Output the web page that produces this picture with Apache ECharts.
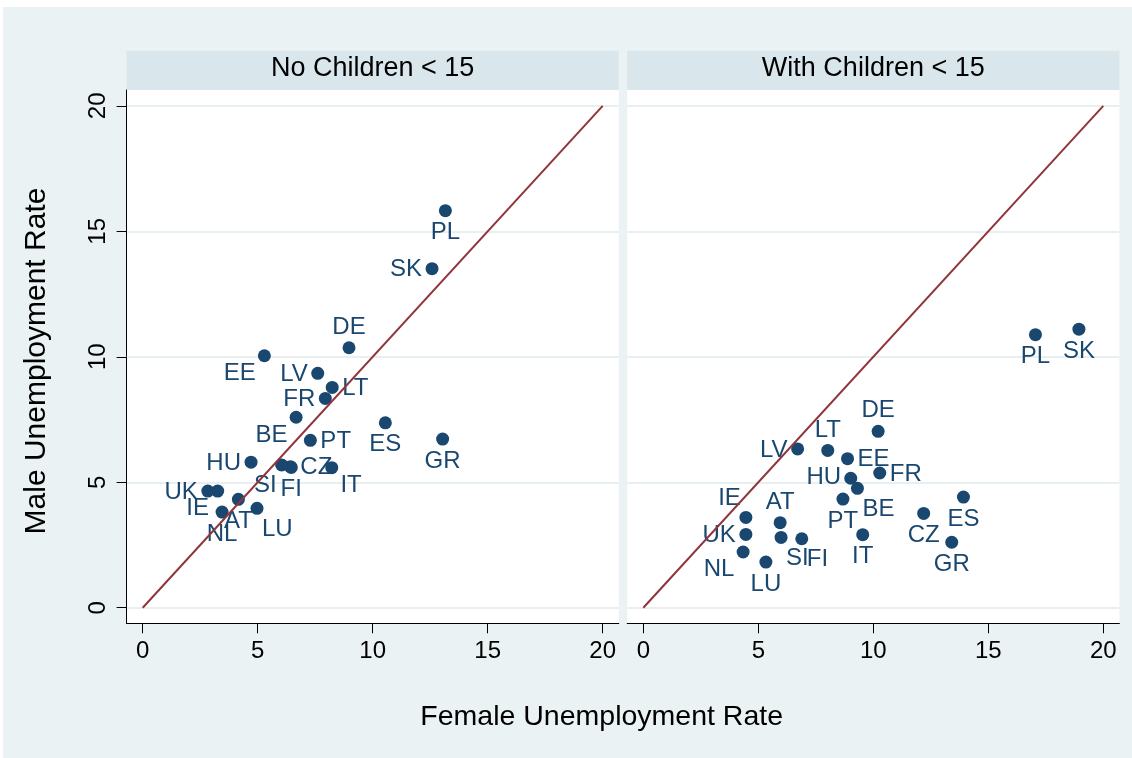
<!DOCTYPE html>
<html>
<head>
<meta charset="utf-8">
<script src="https://cdn.jsdelivr.net/npm/echarts@6/dist/echarts.min.js"></script>
<style>
  html, body { margin: 0; padding: 0; background: #ffffff; width: 1132px; height: 758px; overflow: hidden; }
  #chart { position: absolute; left: 3px; top: 7px; width: 1129px; height: 751px; }
</style>
</head>
<body>
<div id="chart"></div>
<script>
// ---------------- data ----------------
const countries = ['AT','BE','CZ','DE','EE','ES','FI','FR','GR','HU','IE','IT','LT','LU','LV','NL','PL','PT','SI','SK','UK'];
// No children < 15
const femaleNoKids = [4.16, 6.67, 6.42, 8.97, 5.29, 10.55, 6.46, 7.94, 13.04, 4.71, 3.26, 8.22, 8.24, 4.97, 7.61, 3.45, 13.16, 7.29, 6.04, 12.58, 2.83];
const maleNoKids   = [4.32, 7.59, 5.62, 10.36, 10.04, 7.37, 5.59, 8.34, 6.72, 5.80, 4.65, 5.58, 8.78, 3.96, 9.34, 3.81, 15.82, 6.67, 5.69, 13.51, 4.65];
// With children < 15
const femaleKids = [5.95, 9.31, 12.19, 10.21, 8.88, 13.92, 6.89, 10.28, 13.41, 9.02, 4.46, 9.54, 8.02, 5.33, 6.71, 4.34, 17.05, 8.68, 5.99, 18.94, 4.46];
const maleKids   = [3.39, 4.76, 3.76, 7.03, 5.94, 4.41, 2.75, 5.37, 2.61, 5.16, 3.60, 2.91, 6.27, 1.82, 6.33, 2.22, 10.88, 4.33, 2.80, 11.10, 2.92];
// 45-degree reference line endpoints
const refLine = [[0, 0], [20, 20]];
const panelTitles = ['No Children < 15', 'With Children < 15'];
const tickValues = [0, 5, 10, 15, 20];
const xTitle = 'Female Unemployment Rate';
const yTitle = 'Male Unemployment Rate';

// ---------------- label placement (clock positions, style only) ----------------
const clockNoKids = {AT:6, BE:8, CZ:3, DE:12, EE:8, ES:6, FI:6, FR:9, GR:6, HU:9, IE:8, IT:4, LT:3, LU:5, LV:9, NL:6, PL:6, PT:3, SI:7, SK:9, UK:9};
const clockKids   = {AT:12, BE:5, CZ:6, DE:12, EE:3, ES:6, FI:5, FR:3, GR:6, HU:9.5, IE:11, IT:6, LT:12, LU:6, LV:9, NL:8, PL:6, PT:6, SI:5, SK:6, UK:9};

const FONT = "'Liberation Sans', Arial, Helvetica, sans-serif";
const NAVY = '#1a476f';
const MAROON = '#90353b';
const BG = '#eaf2f3';
const HEADER = '#d9e6eb';
const GRIDLINE = '#e8eff1';

function clockLabel(c) {
  const th = c * Math.PI / 6;
  const sx = Math.sin(th), sy = -Math.cos(th);
  const va = sy < -0.3 ? 'bottom' : (sy > 0.3 ? 'top' : 'middle');
  return {
    show: true,
    position: 'inside',
    offset: [10 * sx, 8.5 * sy + (va === 'top' ? 1.5 : 0) + (va === 'middle' ? 1 : 0)],
    align: sx > 0.3 ? 'left' : (sx < -0.3 ? 'right' : 'center'),
    verticalAlign: va,
    formatter: '{b}',
    color: NAVY,
    opacity: 1,
    fontFamily: FONT,
    fontSize: 24,
    lineHeight: 24
  };
}

function points(xs, ys, clocks) {
  return countries.map((c, i) => ({
    name: c,
    value: [xs[i], ys[i]],
    label: clockLabel(clocks[c])
  }));
}

// ---------------- layout ----------------
const GRID_W = 492.2, GRID_H = 533.3, GRID_TOP = 83;
const gridLefts = [123.6, 624.2];

function xAxisFor(gi) {
  return {
    type: 'value', gridIndex: gi, min: -0.7, max: 20.7,
    axisLine: { show: true, onZero: false, lineStyle: { color: '#000', width: 1 } },
    axisTick: { show: true, length: 10, customValues: tickValues, lineStyle: { color: '#000', width: 1 } },
    axisLabel: { show: true, customValues: tickValues, margin: 16, color: '#000', fontFamily: FONT, fontSize: 24 },
    splitLine: { show: false }
  };
}
function yAxisFor(gi) {
  const first = gi === 0;
  return {
    type: 'value', gridIndex: gi, min: -0.62, max: 20.63,
    axisLine: { show: first, onZero: false, lineStyle: { color: '#000', width: 1 } },
    axisTick: { show: first, length: 10, customValues: tickValues, lineStyle: { color: '#000', width: 1 } },
    axisLabel: { show: first, customValues: tickValues, rotate: 90, margin: 16, color: '#000', fontFamily: FONT, fontSize: 24 },
    splitLine: { show: true, lineStyle: { color: GRIDLINE, width: 2 } }
  };
}

const graphics = [];
gridLefts.forEach((l, i) => {
  graphics.push({ type: 'rect', shape: { x: l, y: 43.7, width: GRID_W, height: GRID_TOP - 43.7 }, style: { fill: HEADER }, silent: true });
  graphics.push({ type: 'text', x: l + GRID_W / 2, y: 61.5, style: { text: panelTitles[i], fill: '#000', font: '27px ' + FONT, textAlign: 'center', textVerticalAlign: 'middle' }, silent: true });
});
graphics.push({ type: 'text', x: 598.7, y: 710, style: { text: xTitle, fill: '#000', font: '28.5px ' + FONT, textAlign: 'center', textVerticalAlign: 'middle' }, silent: true });
graphics.push({ type: 'text', x: 34, y: 354, rotation: Math.PI / 2, style: { text: yTitle, fill: '#000', font: '30px ' + FONT, textAlign: 'center', textVerticalAlign: 'middle' }, silent: true });

const chart = echarts.init(document.getElementById('chart'), null, { renderer: 'canvas' });
chart.setOption({
  animation: false,
  backgroundColor: BG,
  grid: gridLefts.map(l => ({ left: l, top: GRID_TOP, width: GRID_W, height: GRID_H, show: true, backgroundColor: '#ffffff', borderWidth: 0, containLabel: false })),
  xAxis: [xAxisFor(0), xAxisFor(1)],
  yAxis: [yAxisFor(0), yAxisFor(1)],
  graphic: graphics,
  series: [
    { type: 'scatter', xAxisIndex: 0, yAxisIndex: 0, symbol: 'circle', symbolSize: 13, itemStyle: { color: NAVY, opacity: 1 }, z: 3, data: points(femaleNoKids, maleNoKids, clockNoKids) },
    { type: 'scatter', xAxisIndex: 1, yAxisIndex: 1, symbol: 'circle', symbolSize: 13, itemStyle: { color: NAVY, opacity: 1 }, z: 3, data: points(femaleKids, maleKids, clockKids) },
    { type: 'line', xAxisIndex: 0, yAxisIndex: 0, data: refLine, showSymbol: false, symbol: 'none', lineStyle: { color: MAROON, width: 2 }, z: 4, silent: true },
    { type: 'line', xAxisIndex: 1, yAxisIndex: 1, data: refLine, showSymbol: false, symbol: 'none', lineStyle: { color: MAROON, width: 2 }, z: 4, silent: true }
  ]
});
</script>
</body>
</html>
